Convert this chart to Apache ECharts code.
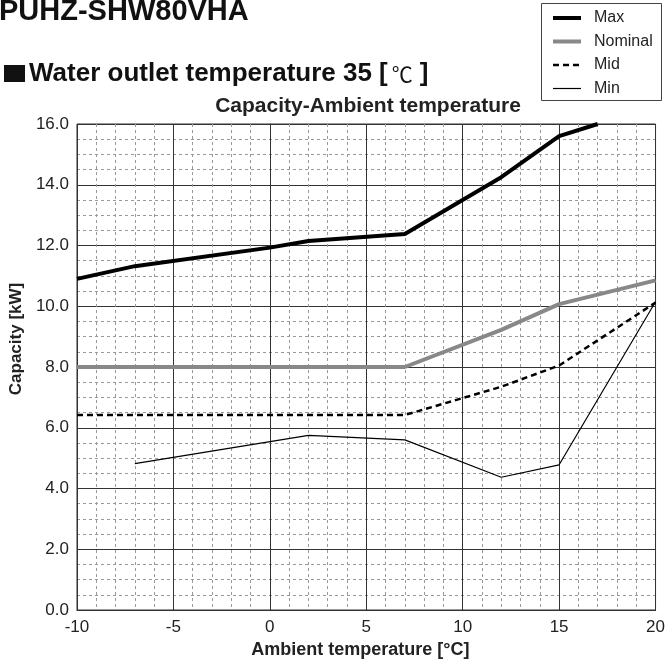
<!DOCTYPE html>
<html>
<head>
<meta charset="utf-8">
<script src="https://cdn.jsdelivr.net/npm/echarts@6/dist/echarts.min.js"></script>
<style>html,body{margin:0;padding:0;background:#fff}#c{width:668px;height:666px}</style>
</head>
<body>
<div id="c"></div>
<script>
// ---- data ----
const maxX = [-10, -7, 0, 2, 7, 12, 15, 17];
const maxY = [10.9, 11.32, 11.93, 12.15, 12.38, 14.25, 15.6, 16.0];
const nomX = [-10, 7, 12, 15, 20];
const nomY = [8.0, 8.0, 9.22, 10.07, 10.85];
const midX = [-10, 7, 12, 15, 20];
const midY = [6.42, 6.42, 7.35, 8.05, 10.12];
const minX = [-7, 2, 7, 12, 15, 20];
const minY = [4.82, 5.75, 5.6, 4.37, 4.78, 10.15];
const xTicks = [-10, -5, 0, 5, 10, 15, 20];
const yTicks = [0, 2, 4, 6, 8, 10, 12, 14, 16];
const seriesNames = ['Max', 'Nominal', 'Mid', 'Min'];

function pairs(xs, ys) { return xs.map((x, i) => [x, ys[i]]); }

const FONT = 'Liberation Sans, Arial, sans-serif';
const chart = echarts.init(document.getElementById('c'), null, {renderer: 'canvas'});
chart.setOption({
  animation: false,
  backgroundColor: '#fff',
  textStyle: {fontFamily: FONT},
  title: [
    {text: 'PUHZ-SHW80VHA', left: -1, top: -3, padding: 0,
     textStyle: {fontFamily: FONT, fontSize: 29, fontWeight: 'bold', color: '#111'}},
    {text: '{b|Water outlet temperature 35 [}{c|℃}{b|]}', left: 29, top: 61, padding: 0,
     textStyle: {rich: {
       b: {fontFamily: FONT, fontSize: 26, fontWeight: 'bold', color: '#111'},
       c: {fontFamily: 'Noto Sans CJK JP', fontSize: 21, fontWeight: 'normal', color: '#111', padding: [0, 7, 0, 4]}
     }}},
    {text: 'Capacity-Ambient temperature', left: 368, textAlign: 'center', top: 96, padding: 0,
     textStyle: {fontFamily: FONT, fontSize: 21, fontWeight: 'bold', color: '#222'}}
  ],
  graphic: [
    {type: 'rect', left: 4, top: 65, shape: {width: 21, height: 17},
     style: {fill: '#111'}, z: 0},
    {type: 'rect', left: 541, top: 3, shape: {width: 120, height: 97},
     style: {fill: '#fff', stroke: '#444', lineWidth: 1}, z: 0}
  ],
  legend: {
    orient: 'vertical', left: 551, top: 10, padding: 0,
    itemWidth: 28, itemHeight: 14, itemGap: 7.5,
    data: seriesNames,
    itemStyle: {opacity: 0, borderWidth: 0},
    lineStyle: {width: 'inherit', type: 'inherit', color: 'inherit'},
    textStyle: {fontFamily: FONT, fontSize: 16, color: '#222', padding: [0, 0, 0, 8]},
    z: 5
  },
  grid: {left: 76, right: 7, top: 124, bottom: 56, show: true, borderColor: '#333', borderWidth: 1},
  xAxis: {
    type: 'value', min: -10, max: 20, interval: 5,
    axisLine: {show: true, lineStyle: {color: '#333', width: 1}},
    axisTick: {show: false},
    axisLabel: {fontFamily: FONT, fontSize: 17, color: '#222', margin: 9,
      formatter: v => xTicks.includes(v) ? String(v) : ''},
    splitLine: {show: true, lineStyle: {color: '#333', width: 1}},
    minorTick: {show: false, splitNumber: 5},
    minorSplitLine: {show: true, lineStyle: {color: '#999', width: 1, type: [3, 3]}},
    name: 'Ambient temperature [°C]', nameLocation: 'middle', nameGap: 30,
    nameTextStyle: {fontFamily: FONT, fontSize: 18, fontWeight: 'bold', color: '#222', padding: [0, 12, 0, 0]}
  },
  yAxis: {
    type: 'value', min: 0, max: 16, interval: 2,
    axisLine: {show: true, lineStyle: {color: '#333', width: 1}},
    axisTick: {show: false},
    axisLabel: {fontFamily: FONT, fontSize: 17, color: '#222', margin: 8,
      formatter: v => yTicks.includes(v) ? v.toFixed(1) : ''},
    splitLine: {show: true, lineStyle: {color: '#333', width: 1}},
    minorTick: {show: false, splitNumber: 4},
    minorSplitLine: {show: true, lineStyle: {color: '#999', width: 1, type: [3, 3]}},
    name: 'Capacity [kW]', nameLocation: 'middle', nameGap: 48,
    nameTextStyle: {fontFamily: FONT, fontSize: 17, fontWeight: 'bold', color: '#222', padding: [0, 0, 0, 56]}
  },
  series: [
    {name: 'Max', type: 'line', data: pairs(maxX, maxY), symbol: 'none',
     lineStyle: {color: '#000', width: 4}, itemStyle: {color: '#000'}, z: 5},
    {name: 'Nominal', type: 'line', data: pairs(nomX, nomY), symbol: 'none',
     lineStyle: {color: '#888', width: 4}, itemStyle: {color: '#888'}, z: 4},
    {name: 'Mid', type: 'line', data: pairs(midX, midY), symbol: 'none',
     lineStyle: {color: '#000', width: 2.5, type: [6, 4]}, itemStyle: {color: '#000'}, z: 4},
    {name: 'Min', type: 'line', data: pairs(minX, minY), symbol: 'none',
     lineStyle: {color: '#000', width: 1.2}, itemStyle: {color: '#000'}, z: 4}
  ]
});
</script>
</body>
</html>
